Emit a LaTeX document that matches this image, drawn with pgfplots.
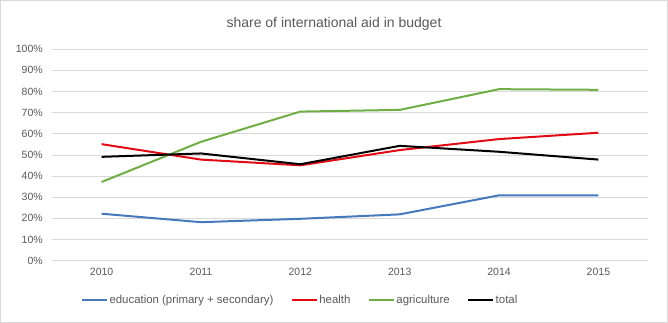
\documentclass[border=0pt]{standalone}
\usepackage{pgfplots}
\pgfplotsset{compat=1.18}
\usepackage{fontspec}
\setmainfont{Liberation Sans}
\definecolor{txt}{HTML}{595959}
\definecolor{gridc}{HTML}{D9D9D9}
\definecolor{cblue}{RGB}{70,120,190}
\definecolor{cred}{RGB}{226,10,20}
\definecolor{cgreen}{RGB}{112,173,71}
\begin{document}
\begin{tikzpicture}[x=1pt,y=1pt]
\draw[gridc, line width=0.8pt] (0.5,0.5) rectangle (667.5,322.5);
\node[txt, font=\fontsize{14}{16}\selectfont] at (334,299.5) {share of international aid in budget};
\begin{axis}[
  at={(52pt,62.3pt)}, anchor=south west,
  scale only axis, width=596pt, height=211.4pt,
  xmin=-0.5, xmax=5.5, ymin=0, ymax=100,
  xtick={0,1,2,3,4,5},
  xticklabels={2010,2011,2012,2013,2014,2015},
  ytick={0,10,...,100},
  yticklabel={\pgfmathprintnumber{\tick}\%},
  /pgf/number format/assume math mode=true,
  axis line style={draw=none},
  major tick length=0pt, tick style={draw=none},
  xmajorgrids=false, ymajorgrids=true, grid style={draw=gridc, line width=0.8pt},
  tick label style={txt, font=\fontsize{10.5}{12}\selectfont},
  yticklabel style={inner sep=0pt, xshift=-9pt},
  xticklabel style={inner sep=0pt, yshift=-7pt},
  legend columns=4,
  legend style={draw=none, fill=none, at={(0.416,-0.185)}, anchor=center,
    font=\fontsize{11.4}{13}\selectfont, text=txt,
    /tikz/every even column/.append style={column sep=16pt},
    nodes={inner sep=1.5pt}},
  legend image code/.code={\draw[#1] (0pt,0pt) -- (25pt,0pt);},
  every axis plot/.append style={line width=2pt, line join=round, no markers},
]
\addplot[cblue] coordinates {(0,22.2) (1,18.2) (2,19.8) (3,21.9) (4,30.9) (5,30.9)};
\addlegendentry{education (primary + secondary)}
\addplot[cred] coordinates {(0,55.1) (1,47.8) (2,45.1) (3,52.3) (4,57.5) (5,60.5)};
\addlegendentry{health}
\addplot[cgreen] coordinates {(0,37.2) (1,56.2) (2,70.5) (3,71.3) (4,81.1) (5,80.8)};
\addlegendentry{agriculture}
\addplot[black] coordinates {(0,49.1) (1,50.7) (2,45.6) (3,54.3) (4,51.5) (5,47.8)};
\addlegendentry{total}
\end{axis}
\end{tikzpicture}
\end{document}
